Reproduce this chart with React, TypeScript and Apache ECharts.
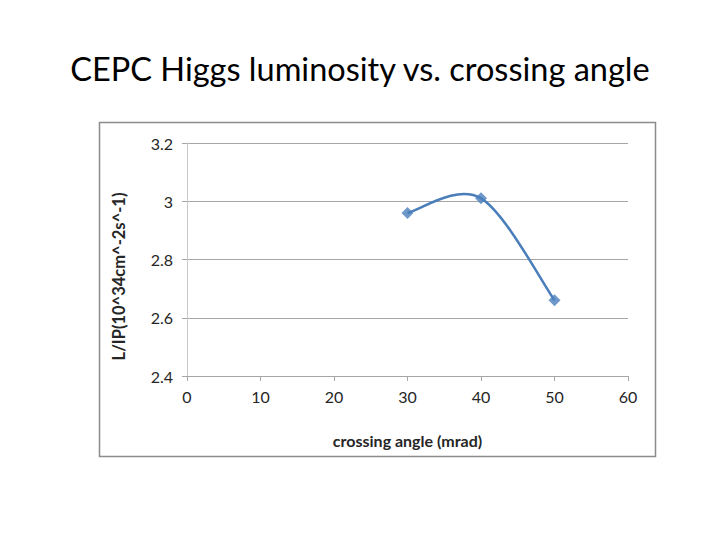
import React, { useEffect, useRef } from "react";
import * as echarts from "echarts";

const titleText = "CEPC Higgs luminosity vs. crossing angle";
const xName = "crossing angle (mrad)";
const yName = "L/IP(10^34cm^-2s^-1)";
const crossingAngles = [30, 40, 50];
const luminosity = [2.96, 3.01, 2.66];

const FONT = "Lato, 'Open Sans', sans-serif";
const LINE_COLOR = "#4a7ebb";

export default function App() {
  const ref = useRef<HTMLDivElement>(null);
  useEffect(() => {
    if (!ref.current) return;
    const chart = echarts.init(ref.current, undefined, { renderer: "svg" });
    const data = crossingAngles.map((x, i) => [x, luminosity[i]]);
    const n = data.length;
    chart.setOption({
      animation: false,
      backgroundColor: "#ffffff",
      title: {
        text: titleText,
        left: "center",
        top: 47,
        textStyle: {
          fontFamily: FONT,
          fontSize: 32.5,
          fontWeight: "normal",
          color: "#000000",
        },
      },
      graphic: [
        {
          type: "rect",
          shape: { x: 99.5, y: 122.5, width: 556, height: 334 },
          style: { fill: "none", stroke: "#8c8c8c", lineWidth: 1.5 },
          z: 0,
        },
      ],
      grid: { left: 187, right: 92, top: 143, bottom: 164 },
      xAxis: {
        type: "value",
        min: 0,
        max: 60,
        interval: 10,
        name: xName,
        nameLocation: "middle",
        nameGap: 56,
        nameTextStyle: {
          fontFamily: FONT,
          fontWeight: "bold",
          fontSize: 16,
          color: "#262626",
        },
        axisLine: { lineStyle: { color: "#a6a6a6", width: 1 } },
        axisTick: { show: true, length: 5, lineStyle: { color: "#a6a6a6" } },
        axisLabel: {
          margin: 12,
          fontFamily: FONT,
          fontSize: 16,
          color: "#262626",
        },
        splitLine: { show: false },
      },
      yAxis: {
        type: "value",
        min: 2.4,
        max: 3.2,
        interval: 0.2,
        name: yName,
        nameLocation: "middle",
        nameGap: 60,
        nameRotate: 90,
        nameTextStyle: {
          fontFamily: FONT,
          fontWeight: "bold",
          fontSize: 16.5,
          color: "#262626",
          padding: [0, 34, 0, 0],
        },
        axisLine: { show: true, lineStyle: { color: "#c8c8c8", width: 1 } },
        axisTick: { show: true, length: 5, lineStyle: { color: "#a6a6a6" } },
        axisLabel: {
          margin: 14,
          fontFamily: FONT,
          fontSize: 16,
          color: "#262626",
          formatter: (v: number) => String(Math.round(v * 10) / 10),
        },
        splitLine: { show: true, lineStyle: { color: "#a6a6a6", width: 1 } },
      },
      series: [
        {
          type: "custom",
          coordinateSystem: "cartesian2d",
          data,
          encode: { x: 0, y: 1 },
          z: 2,
          renderItem: (params: any, api: any) => {
            const i = params.dataIndex;
            if (i >= n - 1) return null;
            const p = data.map((d) => api.coord(d));
            const p0 = p[Math.max(i - 1, 0)];
            const p1 = p[i];
            const p2 = p[i + 1];
            const p3 = p[Math.min(i + 2, n - 1)];
            const cp1 = [p1[0] + (p2[0] - p0[0]) / 6, p1[1] + (p2[1] - p0[1]) / 6];
            const cp2 = [p2[0] - (p3[0] - p1[0]) / 6, p2[1] - (p3[1] - p1[1]) / 6];
            return {
              type: "bezierCurve",
              shape: {
                x1: p1[0],
                y1: p1[1],
                x2: p2[0],
                y2: p2[1],
                cpx1: cp1[0],
                cpy1: cp1[1],
                cpx2: cp2[0],
                cpy2: cp2[1],
              },
              style: { fill: "none", stroke: LINE_COLOR, lineWidth: 2.5 },
            };
          },
        },
        {
          type: "scatter",
          data,
          z: 3,
          symbol: "diamond",
          symbolSize: 12,
          itemStyle: { color: LINE_COLOR },
        },
      ],
    });
    return () => chart.dispose();
  }, []);
  return (
    <div
      ref={ref}
      style={{ position: "absolute", left: 0, top: 0, width: 720, height: 540 }}
    />
  );
}
